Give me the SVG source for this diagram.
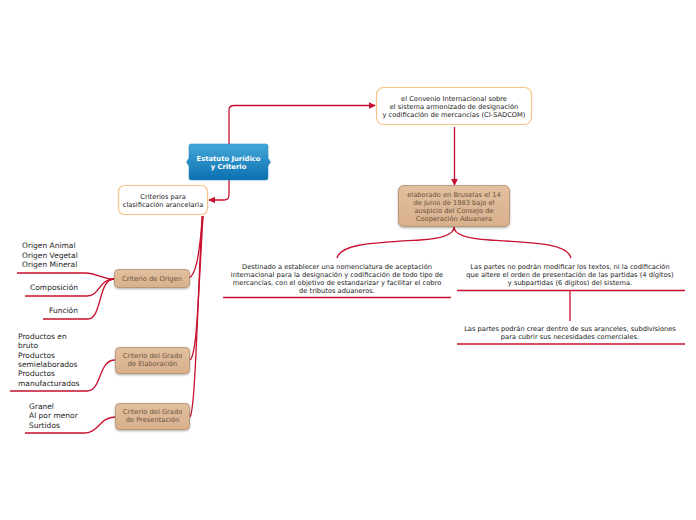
<svg xmlns="http://www.w3.org/2000/svg" width="696" height="520" viewBox="0 0 696 520">
<defs>
<linearGradient id="blue" x1="0" y1="0" x2="0" y2="1">
<stop offset="0" stop-color="#45a8da"/>
<stop offset="1" stop-color="#0a6fae"/>
</linearGradient>
<linearGradient id="tan" x1="0" y1="0" x2="0" y2="1">
<stop offset="0" stop-color="#e2bf9f"/>
<stop offset="1" stop-color="#d9b08c"/>
</linearGradient>
<filter id="sh" x="-20%" y="-20%" width="140%" height="150%">
<feDropShadow dx="0" dy="1.2" stdDeviation="1" flood-color="#000" flood-opacity="0.3"/>
</filter>
<marker id="ar" viewBox="0 0 10 10" refX="9" refY="5" markerWidth="7" markerHeight="7" markerUnits="userSpaceOnUse" orient="auto">
<path d="M0,0 L10,5 L0,10 Z" fill="#c8102e"/>
</marker>
<style>
.ln{fill:none;stroke:#c8102e;stroke-width:1.3}
.t{font-family:"DejaVu Sans",Verdana,sans-serif;font-size:6.7px;fill:#222;text-anchor:middle}
.tt{font-family:"DejaVu Sans",Verdana,sans-serif;font-size:6.7px;fill:#6a5340;text-anchor:middle}
.l{font-family:"DejaVu Sans",Verdana,sans-serif;font-size:7.5px;fill:#222}
.ob{fill:#fff;stroke:#f7c487;stroke-width:1.2}
.tb{fill:url(#tan);stroke:#b08c6c;stroke-width:0.8;filter:url(#sh)}
</style>
</defs>
<rect width="696" height="520" fill="#fff"/>
<g id="connectors">
<path class="ln" d="M229,144 V110 Q229,105.5 234,105.5 H375" marker-end="url(#ar)"/>
<path class="ln" d="M229,180 V195 Q229,200 224,200 H209" marker-end="url(#ar)"/>
<path class="ln" d="M454.5,127 V185" marker-end="url(#ar)"/>
<path class="ln" d="M454,227 Q454,238 420,240 C370,243 341,244 337,258"/>
<path class="ln" d="M454,227 Q454,238 490,240 C540,243 567,244 571,258"/>
<path class="ln" d="M223,297.5 H451"/>
<path class="ln" d="M457,290.5 H685"/>
<path class="ln" d="M570,291 V321"/>
<path class="ln" d="M457,344 H685"/>
<path class="ln" d="M203,216 C200,240 198,275 189,278"/>
<path class="ln" d="M203,216 C198,300 197,355 190,360"/>
<path class="ln" d="M202,216 C197,320 195,410 190,417"/>
<path class="ln" d="M17,273 H86 C98,273 100,279 114,279"/>
<path class="ln" d="M25,296 H87 C100,296 99,279 114,279"/>
<path class="ln" d="M43,319 H88 C102,319 98,279 114,279"/>
<path class="ln" d="M10,391 H87 C102,391 98,360 115,360"/>
<path class="ln" d="M25,433 H85 C98,433 100,417 115,417"/>
</g>
<g id="central">
<path d="M191,144 H266 Q268,144 268,146 V158 L270.5,162 L268,166 V178 Q268,180 266,180 H191 Q189,180 189,178 V166 L186.5,162 L189,158 V146 Q189,144 191,144 Z" fill="url(#blue)" stroke="#2b86c0" stroke-width="0.6"/>
<text x="228.5" y="160.5" text-anchor="middle" font-family="DejaVu Sans, Verdana, sans-serif" font-size="6.8" font-weight="bold" fill="#fff">Estatuto Jurídico</text>
<text x="228.5" y="168.5" text-anchor="middle" font-family="DejaVu Sans, Verdana, sans-serif" font-size="6.8" font-weight="bold" fill="#fff">y Criterio</text>
</g>
<g id="convenio">
<rect class="ob" x="376.5" y="87.5" width="155" height="37" rx="7"/>
<text class="t" x="454" y="100.5">el Convenio Internacional sobre</text>
<text class="t" x="454" y="108.5">el sistema armonizado de designación</text>
<text class="t" x="454" y="116.5">y codificación de mercancías (CI-SADCOM)</text>
</g>
<g id="elaborado">
<rect class="tb" x="398.5" y="185.5" width="111" height="41" rx="5"/>
<text class="tt" x="454" y="197">elaborado en Bruselas el 14</text>
<text class="tt" x="454" y="205">de junio de 1983 bajo el</text>
<text class="tt" x="454" y="213">auspicio del Consejo de</text>
<text class="tt" x="454" y="221">Cooperación Aduanera</text>
</g>
<g id="destinado">
<text class="t" x="337" y="268.5">Destinado a establecer una nomenclatura de aceptación</text>
<text class="t" x="337" y="276.5">internacional para la designación y codificación de todo tipo de</text>
<text class="t" x="337" y="284.5">mercancías, con el objetivo de estandarizar y facilitar el cobro</text>
<text class="t" x="337" y="292.5">de tributos aduaneros.</text>
</g>
<g id="partes-no">
<text class="t" x="570" y="268.5">Las partes no podrán modificar los textos, ni la codificación</text>
<text class="t" x="570" y="276.5">que altere el orden de presentación de las partidas (4 dígitos)</text>
<text class="t" x="570" y="284.5">y subpartidas (6 dígitos) del sistema.</text>
</g>
<g id="partes-crear">
<text class="t" x="570" y="330.5">Las partes podrán crear dentro de sus aranceles, subdivisiones</text>
<text class="t" x="570" y="338.5">para cubrir sus necesidades comerciales.</text>
</g>
<g id="criterios">
<rect class="ob" x="118.5" y="185.5" width="89" height="29" rx="6"/>
<text class="t" x="163" y="198.5">Criterios para</text>
<text class="t" x="163" y="207">clasificación arancelaria</text>
</g>
<g id="origen">
<rect class="tb" x="114.5" y="269.5" width="75" height="18" rx="4"/>
<text class="tt" x="152" y="281">Criterio de Origen</text>
</g>
<g id="elaboracion">
<rect class="tb" x="115.5" y="347.5" width="74" height="26" rx="4"/>
<text class="tt" x="152.5" y="358">Criterio del Grado</text>
<text class="tt" x="152.5" y="366">de Elaboración</text>
</g>
<g id="presentacion">
<rect class="tb" x="115.5" y="403.5" width="74" height="26" rx="4"/>
<text class="tt" x="152.5" y="414">Criterio del Grado</text>
<text class="tt" x="152.5" y="422">de Presentación</text>
</g>
<g id="origen-items">
<text class="l" x="22" y="248">Origen Animal</text>
<text class="l" x="22" y="257.5">Origen Vegetal</text>
<text class="l" x="22" y="267">Origen Mineral</text>
</g>
<g id="composicion"><text class="l" x="30" y="290">Composición</text></g>
<g id="funcion"><text class="l" x="49" y="313">Función</text></g>
<g id="elaboracion-items">
<text class="l" x="18" y="339">Productos en</text>
<text class="l" x="18" y="348">bruto</text>
<text class="l" x="18" y="358">Productos</text>
<text class="l" x="18" y="367">semielaborados</text>
<text class="l" x="18" y="376">Productos</text>
<text class="l" x="18" y="386">manufacturados</text>
</g>
<g id="presentacion-items">
<text class="l" x="29" y="408.5">Granel</text>
<text class="l" x="29" y="418">Al por menor</text>
<text class="l" x="29" y="427.5">Surtidos</text>
</g>
</svg>
